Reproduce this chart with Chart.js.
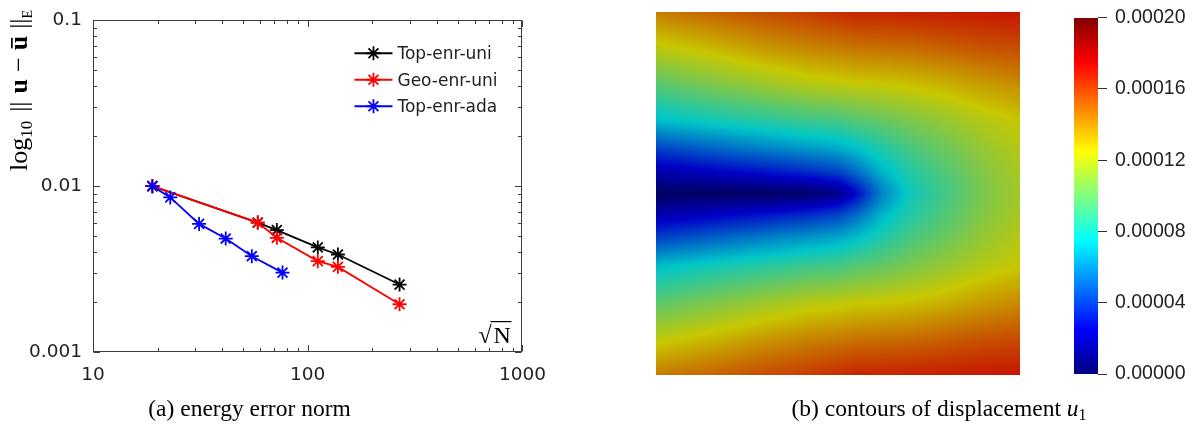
<!DOCTYPE html>
<html>
<head>
<meta charset="utf-8">
<script src="https://cdn.jsdelivr.net/npm/chart.js@4.4.1/dist/chart.umd.min.js"></script>
<style>
  html, body { margin: 0; padding: 0; background: #fff; }
  #page { position: relative; width: 1199px; height: 428px; overflow: hidden; }
  canvas { position: absolute; top: 0; }
  #errChart { left: 0; }
  #fieldChart { left: 600px; }
  #barChart { left: 1040px; }
</style>
</head>
<body>
<div id="page">
  <canvas id="errChart" width="560" height="428"></canvas>
  <canvas id="fieldChart" width="599" height="428"></canvas>
  <canvas id="barChart" width="159" height="428"></canvas>
</div>
<script>
// ---- (a) energy error norm vs sqrt(N) ----
const seriesNames = ['Top-enr-uni', 'Geo-enr-uni', 'Top-enr-ada'];
const sqrtNUni = [18.9, 58.5, 71.8, 111.4, 138.2, 267.7];
const errTopUni = [0.0100, 0.00603, 0.00543, 0.00427, 0.00387, 0.00255];
const errGeoUni = [0.0100, 0.00603, 0.00488, 0.00353, 0.00326, 0.00194];
const sqrtNAda = [18.9, 22.9, 31.2, 41.5, 54.9, 76.3];
const errTopAda = [0.0100, 0.00855, 0.00592, 0.00483, 0.00378, 0.00301];
const xTicks = [10, 100, 1000];
const yTicks = [0.001, 0.01, 0.1];

// ---- (b) displacement u1 on the unit square (values in 1e-4) ----
const fieldU = [0, 0.15, 0.3, 0.42, 0.5, 0.55, 0.62, 0.7, 0.8, 0.9, 1];
const fieldV = [0, 0.1, 0.2, 0.3, 0.38, 0.44, 0.48, 0.5, 0.52, 0.56, 0.62, 0.7, 0.8, 0.9, 1];
const fieldU1 = [
  [1.44, 1.50, 1.56, 1.60, 1.64, 1.66, 1.66, 1.67, 1.68, 1.69, 1.70],
  [1.22, 1.29, 1.37, 1.42, 1.44, 1.46, 1.47, 1.48, 1.51, 1.54, 1.56],
  [0.97, 1.06, 1.14, 1.20, 1.22, 1.24, 1.25, 1.27, 1.31, 1.36, 1.40],
  [0.72, 0.79, 0.85, 0.90, 0.92, 0.96, 1.00, 1.06, 1.13, 1.20, 1.25],
  [0.40, 0.48, 0.56, 0.62, 0.66, 0.72, 0.82, 0.92, 1.02, 1.12, 1.20],
  [0.18, 0.24, 0.30, 0.36, 0.42, 0.52, 0.70, 0.84, 0.96, 1.08, 1.17],
  [0.06, 0.08, 0.10, 0.14, 0.20, 0.34, 0.60, 0.80, 0.93, 1.06, 1.16],
  [0.00, 0.00, 0.00, 0.02, 0.08, 0.26, 0.58, 0.78, 0.92, 1.06, 1.16],
  [0.06, 0.08, 0.10, 0.14, 0.20, 0.34, 0.60, 0.80, 0.93, 1.06, 1.16],
  [0.18, 0.24, 0.30, 0.36, 0.42, 0.52, 0.70, 0.84, 0.96, 1.08, 1.17],
  [0.40, 0.48, 0.56, 0.62, 0.66, 0.72, 0.82, 0.92, 1.02, 1.12, 1.20],
  [0.72, 0.79, 0.85, 0.90, 0.92, 0.96, 1.00, 1.06, 1.13, 1.20, 1.25],
  [0.97, 1.06, 1.14, 1.20, 1.22, 1.24, 1.25, 1.27, 1.31, 1.36, 1.40],
  [1.22, 1.29, 1.37, 1.42, 1.44, 1.46, 1.47, 1.48, 1.51, 1.54, 1.56],
  [1.44, 1.50, 1.56, 1.60, 1.64, 1.66, 1.66, 1.67, 1.68, 1.69, 1.70]
];
const u1Unit = 1e-4;
const barTicks = [0, 0.00004, 0.00008, 0.00012, 0.00016, 0.00020];

const serif = '"Liberation Serif", "DejaVu Serif", serif';
const sans = '"DejaVu Sans", sans-serif';
const axisGray = '#3c3c3c';

// jet colour map
const jetStops = [0, 0.125, 0.375, 0.625, 0.875, 1];
const jetRGB = [[0, 0, 128], [0, 0, 255], [0, 255, 255], [255, 255, 0], [255, 0, 0], [128, 0, 0]];
function jet(t) {
  t = Math.min(1, Math.max(0, t));
  let k = 0;
  while (k < jetStops.length - 2 && t > jetStops[k + 1]) k++;
  const f = (t - jetStops[k]) / (jetStops[k + 1] - jetStops[k]);
  return jetRGB[k].map((c, n) => c + (jetRGB[k + 1][n] - c) * f);
}

function locate(arr, t) {
  let i = 0;
  while (i < arr.length - 2 && t > arr[i + 1]) i++;
  const f = (t - arr[i]) / (arr[i + 1] - arr[i]);
  return [i, Math.min(1, Math.max(0, f))];
}
function sampleU1(u, v) {
  const [i, fu] = locate(fieldU, u);
  const [j, fv] = locate(fieldV, v);
  const r0 = fieldU1[j], r1 = fieldU1[j + 1];
  const top = r0[i] * (1 - fu) + r0[i + 1] * fu;
  const bot = r1[i] * (1 - fu) + r1[i + 1] * fu;
  return (top * (1 - fv) + bot * fv) * u1Unit;
}

function drawRuns(ctx, runs, x0, y0, measureOnly) {
  let x = x0;
  for (const r of runs) {
    if (r.gap) { x += r.gap; continue; }
    ctx.font = r.font;
    const w = ctx.measureText(r.text).width;
    if (!measureOnly) {
      ctx.fillText(r.text, x, y0 + (r.dy || 0));
      if (r.bar) ctx.fillRect(x + 2, y0 - r.bar, w - 4, 1.7);
    }
    x += w;
  }
  return x - x0;
}

// box with inward major/minor ticks on all four sides
const frameTicks = {
  id: 'frameTicks',
  afterDraw(chart) {
    const { ctx, chartArea: a, scales: { x, y } } = chart;
    const L = Math.round(a.left) + 0.5, R = Math.round(a.right) - 0.5;
    const T = Math.round(a.top) + 0.5, B = Math.round(a.bottom) - 0.5;
    ctx.save();
    ctx.strokeStyle = axisGray;
    ctx.lineWidth = 1;
    ctx.beginPath();
    const xMarks = [], yMarks = [];
    xTicks.forEach((d, n) => {
      xMarks.push([d, 6.5]);
      if (n < xTicks.length - 1) for (let k = 2; k < 10; k++) xMarks.push([d * k, 3.5]);
    });
    yTicks.forEach((d, n) => {
      yMarks.push([d, 6.5]);
      if (n < yTicks.length - 1) for (let k = 2; k < 10; k++) yMarks.push([d * k, 3.5]);
    });
    xMarks.forEach(([v, len]) => {
      const px = Math.round(x.getPixelForValue(v)) + 0.5;
      ctx.moveTo(px, B); ctx.lineTo(px, B - len);
      ctx.moveTo(px, T); ctx.lineTo(px, T + len);
    });
    yMarks.forEach(([v, len]) => {
      const py = Math.round(y.getPixelForValue(v)) + 0.5;
      ctx.moveTo(L, py); ctx.lineTo(L + len, py);
      ctx.moveTo(R, py); ctx.lineTo(R - len, py);
    });
    ctx.stroke();
    ctx.strokeRect(L, T, R - L, B - T);
    ctx.restore();
  }
};

const insideLegend = {
  id: 'insideLegend',
  afterDraw(chart) {
    const { ctx, chartArea: a } = chart;
    ctx.save();
    chart.data.datasets.forEach((ds, i) => {
      const yy = a.top + 33 + i * 26.5;
      ctx.strokeStyle = ds.borderColor;
      ctx.lineWidth = 1.8;
      ctx.beginPath();
      ctx.moveTo(a.right - 168, yy);
      ctx.lineTo(a.right - 130, yy);
      ctx.stroke();
      ctx.lineWidth = 1.8;
      Chart.helpers.drawPoint(ctx, { pointStyle: 'star', radius: 7, borderWidth: 1.8, rotation: 0 }, a.right - 149, yy);
      ctx.fillStyle = '#222';
      ctx.font = '17px ' + sans;
      ctx.textBaseline = 'alphabetic';
      ctx.fillText(ds.label, a.right - 125, yy + 6);
    });
    ctx.restore();
  }
};

const errLabels = {
  id: 'errLabels',
  afterDraw(chart) {
    const { ctx, chartArea: a } = chart;
    ctx.save();
    ctx.fillStyle = '#000';
    ctx.textBaseline = 'alphabetic';
    // y-axis title: log10 || u - u_bar ||_E
    const runs = [
      { text: 'log', font: '26px ' + serif },
      { text: '10', font: '17px ' + serif, dy: 5 },
      { gap: 9 },
      { text: '||', font: '26px ' + serif },
      { gap: 8 },
      { text: 'u', font: 'bold 26px ' + serif },
      { gap: 7 },
      { text: '\u2212', font: '26px ' + serif },
      { gap: 7 },
      { text: 'u', font: 'bold 26px ' + serif, bar: 16 },
      { gap: 7 },
      { text: '||', font: '26px ' + serif },
      { text: 'E', font: '14px ' + serif, dy: 5 }
    ];
    const total = drawRuns(ctx, runs, 0, 0, true);
    ctx.translate(27, 90.5);
    ctx.rotate(-Math.PI / 2);
    drawRuns(ctx, runs, -total / 2, 0, false);
    ctx.setTransform(1, 0, 0, 1, 0, 0);
    // sqrt(N) tag in the lower right corner
    ctx.font = '24px ' + serif;
    ctx.fillText('\u221A', a.right - 44, a.bottom - 9);
    ctx.fillText('N', a.right - 29, a.bottom - 9);
    ctx.fillRect(a.right - 32, a.bottom - 31, 21, 1.2);
    // caption
    ctx.font = '23.5px ' + serif;
    ctx.textAlign = 'center';
    ctx.fillText('(a) energy error norm', 249.5, 416);
    ctx.restore();
  }
};

const toXY = (xs, ys) => xs.map((x, i) => ({ x, y: ys[i] }));

new Chart(document.getElementById('errChart'), {
  type: 'line',
  data: {
    datasets: [
      { label: seriesNames[0], data: toXY(sqrtNUni, errTopUni), borderColor: '#000000', order: 2 },
      { label: seriesNames[1], data: toXY(sqrtNUni, errGeoUni), borderColor: '#ff0000', order: 1 },
      { label: seriesNames[2], data: toXY(sqrtNAda, errTopAda), borderColor: '#0000ff', order: 0 }
    ]
  },
  options: {
    responsive: false,
    animation: false,
    events: [],
    layout: { padding: { top: 10, right: 33, left: 0, bottom: 0 } },
    plugins: { legend: { display: false }, tooltip: { enabled: false } },
    elements: {
      line: { borderWidth: 1.8, tension: 0, fill: false },
      point: { pointStyle: 'star', radius: 7, borderWidth: 1.8 }
    },
    datasets: { line: { pointBorderColor: ctx => ctx.dataset.borderColor } },
    scales: {
      x: {
        type: 'logarithmic', min: 10, max: 1000,
        grid: { display: false, drawTicks: false },
        border: { display: false },
        afterBuildTicks: s => { s.ticks = xTicks.map(v => ({ value: v })); },
        afterFit: s => { s.height = 76; },
        ticks: {
          autoSkip: false, maxRotation: 0, padding: 14, color: '#222',
          font: { family: 'DejaVu Sans', size: 18.5, lineHeight: 1 },
          callback: v => String(v)
        }
      },
      y: {
        type: 'logarithmic', min: 0.001, max: 0.1,
        grid: { display: false, drawTicks: false },
        border: { display: false },
        afterBuildTicks: s => { s.ticks = yTicks.map(v => ({ value: v })); },
        afterFit: s => { s.width = 93; },
        ticks: {
          autoSkip: false, padding: 11, color: '#222',
          font: { family: 'DejaVu Sans', size: 18.5, lineHeight: 1 },
          callback: v => String(v)
        }
      }
    }
  },
  plugins: [frameTicks, insideLegend, errLabels]
});

// ---- (b) field and its colour bar ----
const surfaceShade = 0.78;
const fieldPaint = {
  id: 'fieldPaint',
  beforeDatasetsDraw(chart) {
    const { ctx, scales: { x, y } } = chart;
    const left = Math.round(x.getPixelForValue(0)), right = Math.round(x.getPixelForValue(1));
    const top = Math.round(y.getPixelForValue(0)), bottom = Math.round(y.getPixelForValue(1));
    const w = right - left, h = bottom - top;
    const off = document.createElement('canvas');
    off.width = w; off.height = h;
    const octx = off.getContext('2d');
    const img = octx.createImageData(w, h);
    for (let j = 0; j < h; j++) {
      const v = y.getValueForPixel(top + j + 0.5);
      for (let i = 0; i < w; i++) {
        const u = x.getValueForPixel(left + i + 0.5);
        const c = jet(sampleU1(u, v) / barTicks[barTicks.length - 1]);
        const p = (j * w + i) * 4;
        img.data[p] = c[0] * surfaceShade;
        img.data[p + 1] = c[1] * surfaceShade;
        img.data[p + 2] = c[2] * surfaceShade;
        img.data[p + 3] = 255;
      }
    }
    octx.putImageData(img, 0, 0);
    ctx.drawImage(off, left, top);
  },
  afterDraw(chart) {
    const ctx = chart.ctx;
    ctx.save();
    ctx.fillStyle = '#000';
    ctx.textBaseline = 'alphabetic';
    const runs = [
      { text: '(b) contours of displacement ', font: '23.5px ' + serif },
      { text: 'u', font: 'italic 23.5px ' + serif },
      { text: '1', font: '16px ' + serif, dy: 4 }
    ];
    const total = drawRuns(ctx, runs, 0, 0, true);
    drawRuns(ctx, runs, 339 - total / 2, 416, false);
    ctx.restore();
  }
};

new Chart(document.getElementById('fieldChart'), {
  type: 'scatter',
  data: { datasets: [] },
  options: {
    responsive: false,
    animation: false,
    events: [],
    layout: { padding: { left: 56, top: 11.7, right: 179.5, bottom: 53 } },
    plugins: { legend: { display: false }, tooltip: { enabled: false } },
    scales: {
      x: { type: 'linear', min: 0, max: 1, display: false },
      y: { type: 'linear', min: 0, max: 1, reverse: true, display: false }
    }
  },
  plugins: [fieldPaint]
});

const barPaint = {
  id: 'barPaint',
  beforeDatasetsDraw(chart) {
    const { ctx, chartArea: a, scales: { y } } = chart;
    const max = barTicks[barTicks.length - 1];
    for (let py = Math.round(a.top); py < Math.round(a.bottom); py++) {
      const c = jet(y.getValueForPixel(py + 0.5) / max);
      ctx.fillStyle = `rgb(${c[0]},${c[1]},${c[2]})`;
      ctx.fillRect(a.left, py, a.right - a.left, 1);
    }
  }
};

new Chart(document.getElementById('barChart'), {
  type: 'scatter',
  data: { datasets: [] },
  options: {
    responsive: false,
    animation: false,
    events: [],
    layout: { padding: { left: 34, top: 14, right: 0, bottom: 54 } },
    plugins: { legend: { display: false }, tooltip: { enabled: false } },
    scales: {
      x: { type: 'linear', min: 0, max: 1, display: false },
      y: {
        type: 'linear', position: 'right',
        min: barTicks[0], max: barTicks[barTicks.length - 1],
        afterBuildTicks: s => { s.ticks = barTicks.map(v => ({ value: v })); },
        afterFit: s => { s.width = 101; },
        grid: { drawOnChartArea: false, drawTicks: true, tickLength: 9, color: '#333', lineWidth: 1 },
        border: { display: false },
        ticks: {
          padding: 8, color: '#222',
          font: { family: 'Liberation Sans', size: 19.5, lineHeight: 1 },
          callback: v => v.toFixed(5)
        }
      }
    }
  },
  plugins: [barPaint]
});
</script>
</body>
</html>
